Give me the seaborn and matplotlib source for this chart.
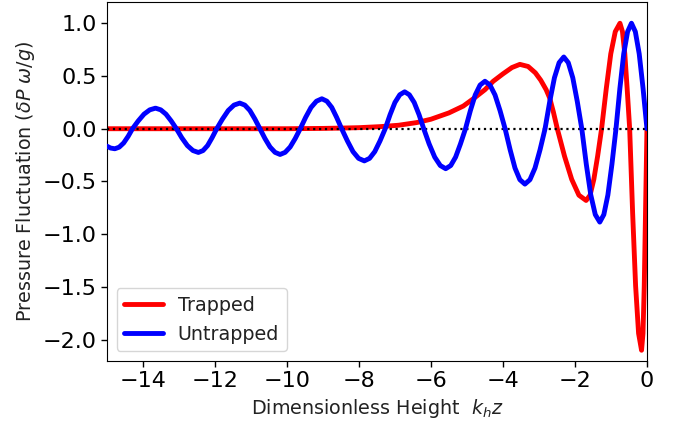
import pandas as pd
import seaborn as sns
import matplotlib.pyplot as plt

# values
blue_x = [-15.0, -14.9, -14.78,
          -14.66, -14.535, -14.41, -14.29,
          -14.13, -13.97, -13.81, -13.65,
          -13.505, -13.36, -13.215, -13.07,
          -12.92, -12.765, -12.61, -12.46,
          -12.33, -12.205, -12.08, -11.95,
          -11.79, -11.63, -11.47, -11.31,
          -11.17, -11.03, -10.89, -10.75,
          -10.61, -10.47, -10.33, -10.19,
          -10.05, -9.91, -9.77, -9.63,
          -9.48, -9.33, -9.18, -9.03,
          -8.89, -8.755, -8.62, -8.48,
          -8.32, -8.165, -8.01, -7.85,
          -7.705, -7.56, -7.415, -7.27,
          -7.135, -7.0, -6.865, -6.73,
          -6.60, -6.465, -6.33, -6.20,
          -6.05, -5.895, -5.74, -5.59,
          -5.45, -5.315, -5.18, -5.04,
          -4.905, -4.77, -4.635, -4.50,
          -4.36, -4.22, -4.08, -3.94,
          -3.80, -3.665, -3.53, -3.39,
          -3.25, -3.11, -2.97, -2.83,
          -2.70, -2.57, -2.44, -2.31,
          -2.185, -2.06, -1.935, -1.81,
          -1.685, -1.56, -1.435, -1.31,
          -1.1975, -1.085, -0.9725, -0.86,
          -0.7525, -0.645, -0.5375, -0.43,
          -0.3225, -0.215, -0.1075, 0.0]
blue_y = [-0.165, -0.183, -0.19,
          -0.175, -0.135, -0.072, 0.0,
          0.074, 0.138, 0.179, 0.195,
          0.179, 0.138, 0.074, 0.0,
          -0.086, -0.16, -0.207, -0.225,
          -0.207, -0.16, -0.086, 0.0,
          0.092, 0.173, 0.224, 0.243,
          0.224, 0.173, 0.092, 0.0,
          -0.093, -0.173, -0.224, -0.244,
          -0.224, -0.173, -0.093, 0.0,
          0.108, 0.202, 0.261, 0.284,
          0.261, 0.202, 0.108, 0.0,
          -0.116, -0.217, -0.281, -0.305,
          -0.281, -0.217, -0.116, 0.0,
          0.133, 0.249, 0.322, 0.35,
          0.322, 0.249, 0.133, 0.0,
          -0.144, -0.269, -0.349, -0.379,
          -0.349, -0.269, -0.144, 0.0,
          0.171, 0.32, 0.414, 0.45,
          0.414, 0.32, 0.171, 0.0,
          -0.2, -0.373, -0.483, -0.525,
          -0.483, -0.373, -0.2, 0.0,
          0.258, 0.483, 0.626, 0.68,
          0.626, 0.483, 0.258, 0.0,
          -0.336, -0.628, -0.814, -0.885,
          -0.814, -0.628, -0.336, 0.0,
          0.38, 0.71, 0.92, 1.0,
          0.92, 0.71, 0.38, 0.0]

red_x = [-15.0, -12.0, -10.0, -9.0, -8.5, -8.0, -7.4, -6.9, -6.4, -6.0,
         -5.5, -5.1, -4.8, -4.5, -4.27, -4.0, -3.75, -3.53, -3.3, -3.1,
         -2.95, -2.8, -2.7, -2.6, -2.49, -2.29, -2.09, -1.89, -1.69,
         -1.58, -1.475, -1.37, -1.26, -1.13, -1.005, -0.88, -0.75,
         -0.68, -0.615, -0.55, -0.48, -0.3975, -0.315, -0.2325, -0.15,
         -0.11, -0.075, -0.04, 0.0]
red_y = [0.0, 0.0, 0.0, 0.003, 0.006, 0.01, 0.02, 0.033, 0.058, 0.09,
         0.15, 0.215, 0.29, 0.37, 0.45, 0.52, 0.58, 0.61, 0.59, 0.53,
         0.46, 0.37, 0.29, 0.16, 0.0, -0.26, -0.48, -0.63, -0.68,
         -0.63, -0.48, -0.26, 0.0, 0.38, 0.71, 0.92, 1.0,
         0.92, 0.71, 0.38, 0.0, -0.80, -1.49, -1.94, -2.10,
         -1.94, -1.49, -0.80, 0.0]

y_ticks = [1.0, 0.5, 0.0, -0.5, -1.0, -1.5, -2.0]
x_ticks = [-14, -12, -10, -8, -6, -4, -2, 0]

trapped = pd.DataFrame({'z': red_x, 'p': red_y})
untrapped = pd.DataFrame({'z': blue_x, 'p': blue_y})

sns.set_style('ticks')
plt.rcParams['font.family'] = 'DejaVu Sans'
plt.rcParams['axes.edgecolor'] = 'black'
plt.rcParams['text.color'] = '#222222'
plt.rcParams['axes.labelcolor'] = '#222222'

fig = plt.figure(figsize=(6.81, 4.25), dpi=100)
ax = fig.add_axes([0.157, 0.151, 0.793, 0.844])

# round joins so the read-off points give a smooth looking curve
line_kw = dict(lw=3.5, solid_joinstyle='round', solid_capstyle='round')
sns.lineplot(data=trapped, x='z', y='p', color='red', label='Trapped', ax=ax, zorder=2, **line_kw)
ax.axhline(0, color='black', ls=':', lw=1.6, zorder=3)
sns.lineplot(data=untrapped, x='z', y='p', color='blue', label='Untrapped', ax=ax, zorder=4, **line_kw)

ax.set_xlim(-15, 0)
ax.set_ylim(-2.2, 1.2)
ax.set_xticks(x_ticks)
ax.set_yticks(y_ticks)
ax.tick_params(labelsize=16, length=4, width=1, colors='black')
ax.set_xlabel(r'Dimensionless Height  $k_h z$', fontsize=13.8)
ax.set_ylabel(r'Pressure Fluctuation ($\delta P\ \omega/g$)', fontsize=13.8)
ax.legend(loc='lower left', fontsize=13.8)

fig.savefig('out.png', dpi=100)
